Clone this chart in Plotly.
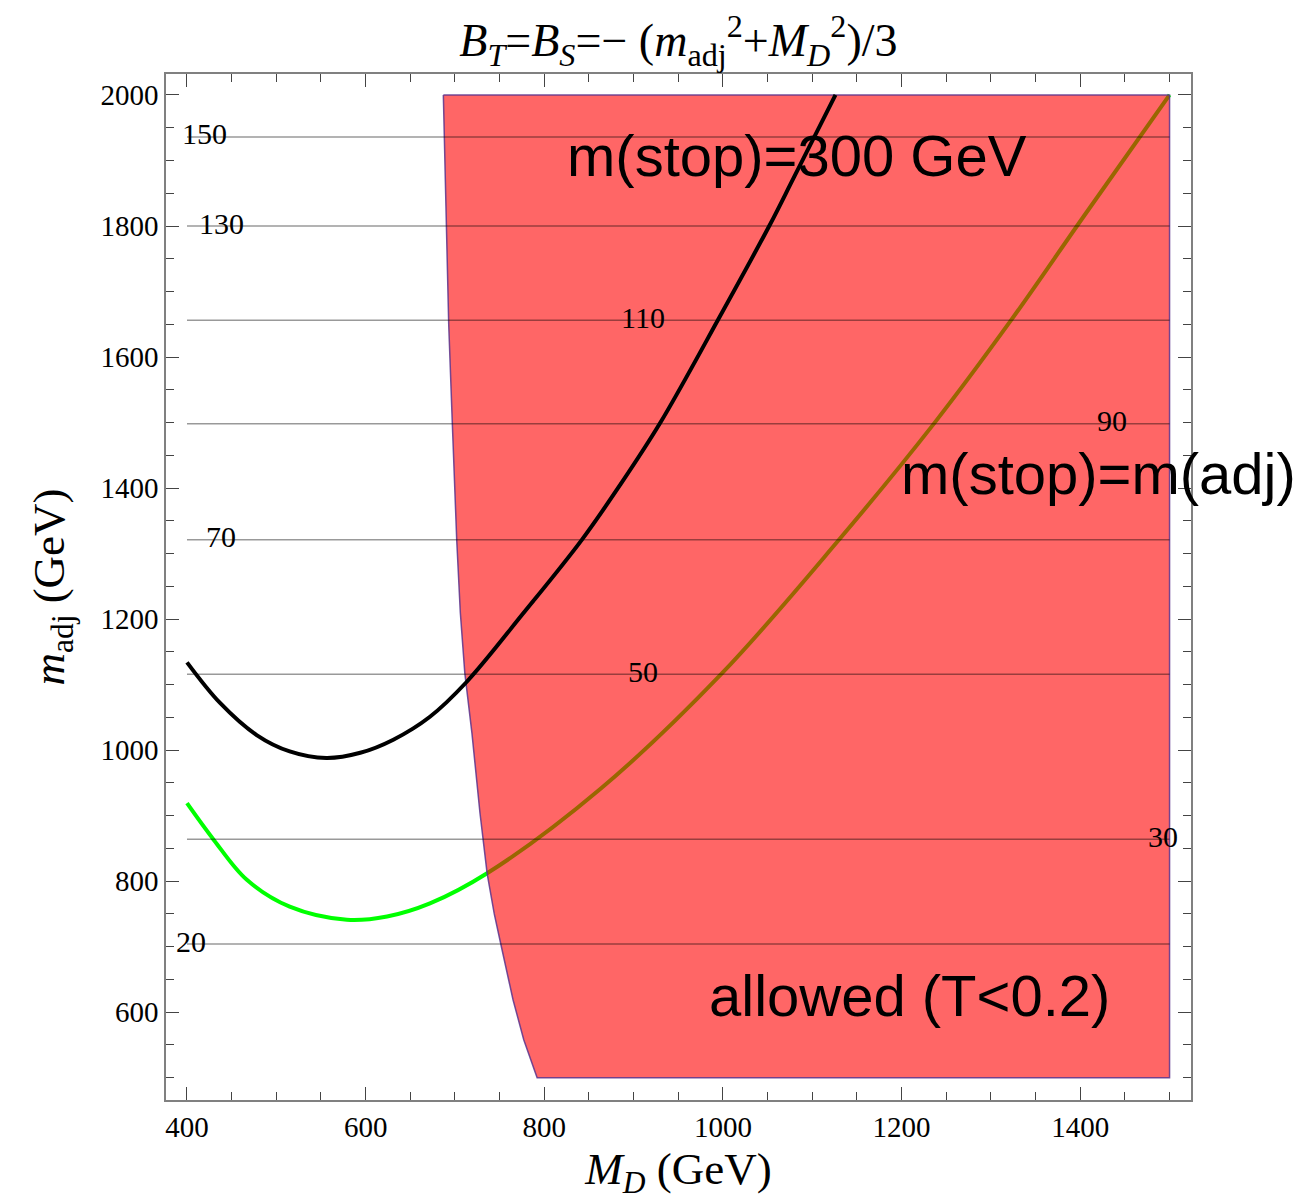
import plotly.graph_objects as go

# Black curve: m(stop) = 300 GeV
stop300_md = [400, 437, 478, 515, 556, 594, 631, 672, 713, 776, 842, 885, 930, 997, 1053, 1079, 1126]
stop300_madj = [1134, 1072, 1023, 998, 988, 996, 1016, 1051, 1104, 1208, 1321, 1405, 1500, 1663, 1803, 1873, 2000]

# Green curve: m(stop) = m(adj)
stopadj_md = [400, 430, 467, 515, 579, 624, 672, 736, 863, 998, 1128, 1236, 1323, 1403, 1500]
stopadj_madj = [919, 863, 802, 761, 741, 746, 766, 812, 941, 1116, 1318, 1498, 1657, 1813, 2000]

# Left edge of the allowed region (T < 0.2)
bound_md = [687, 690, 693, 697, 702, 706, 711, 719, 728, 736, 744, 751, 758, 765, 777, 792]
bound_madj = [2000, 1800, 1650, 1500, 1320, 1210, 1118, 1026, 904, 812, 750, 706, 660, 619, 558, 500]
region_md_max = 1500
region_madj_min = 500
region_madj_max = 2000

# Horizontal contours and their labels
contour_levels = ["150", "130", "110", "90", "70", "50", "30", "20"]
contour_madj = [1936, 1800, 1656, 1498, 1321, 1116, 864, 704]
contour_label_md = [420, 439, 911, 1436, 438, 911, 1493, 405]
contour_md_span = [400, 1500]

serif = "Liberation Serif, Times New Roman, serif"
sans = "Liberation Sans, Arial, sans-serif"

fig = go.Figure()

fig.add_trace(go.Scatter(
    x=stopadj_md, y=stopadj_madj, mode="lines",
    line=dict(color="#00ff00", width=4, shape="spline", smoothing=1.0),
    hoverinfo="skip", showlegend=False))

region_x = bound_md + [region_md_max, region_md_max, bound_md[0]]
region_y = bound_madj + [region_madj_min, region_madj_max, bound_madj[0]]
fig.add_trace(go.Scatter(
    x=region_x, y=region_y, mode="lines", fill="toself",
    fillcolor="rgba(255,0,0,0.6)",
    line=dict(color="rgba(90,50,140,0.85)", width=1.5),
    hoverinfo="skip", showlegend=False))

cx, cy = [], []
for yv in contour_madj:
    cx += [contour_md_span[0], contour_md_span[1], None]
    cy += [yv, yv, None]
fig.add_trace(go.Scatter(
    x=cx, y=cy, mode="lines",
    line=dict(color="rgba(0,0,0,0.4)", width=1.5),
    hoverinfo="skip", showlegend=False))

fig.add_trace(go.Scatter(
    x=stop300_md, y=stop300_madj, mode="lines",
    line=dict(color="black", width=4, shape="spline", smoothing=1.0),
    hoverinfo="skip", showlegend=False))

for lab, xv, yv in zip(contour_levels, contour_label_md, contour_madj):
    fig.add_annotation(x=xv, y=yv, text=lab, showarrow=False,
                       xanchor="center", yanchor="middle", yshift=3,
                       font=dict(family=serif, size=30, color="black"))

big = dict(family=sans, size=58, color="black")
fig.add_annotation(x=1083, y=1908, text="m(stop)=300 GeV", showarrow=False,
                   xanchor="center", yanchor="middle", font=big)
fig.add_annotation(x=1420, y=1423, text="m(stop)=m(adj)", showarrow=False,
                   xanchor="center", yanchor="middle", font=big)
fig.add_annotation(x=1209, y=626, text="allowed (T&lt;0.2)", showarrow=False,
                   xanchor="center", yanchor="middle", font=big)

axis_common = dict(
    showgrid=False, zeroline=False, showline=True, linecolor="#808080",
    linewidth=1.5, mirror="allticks", ticks="inside", ticklen=13,
    tickwidth=1.3, tickcolor="#444444", automargin=False,
    tickfont=dict(family=serif, size=29, color="black"),
    minor=dict(ticks="inside", ticklen=8, tickwidth=1.1, tickcolor="#444444", dtick=50),
)

fig.update_layout(
    width=1315, height=1200,
    margin=dict(l=166, r=124, t=74, b=100),
    paper_bgcolor="white", plot_bgcolor="white",
    title=dict(
        text="<i>B</i><sub><i>T</i></sub>=<i>B</i><sub><i>S</i></sub>=− (<i>m</i><sub>adj</sub><sup>2</sup>+<i>M</i><sub><i>D</i></sub><sup>2</sup>)/3",
        x=0.5159, xanchor="center", y=1 - 40 / 1200, yanchor="middle",
        font=dict(family=serif, size=46, color="black")),
    xaxis=dict(range=[376.5, 1524], tickvals=[400, 600, 800, 1000, 1200, 1400],
               title=dict(text="<i>M</i><sub><i>D</i></sub> (GeV)",
                          font=dict(family=serif, size=45, color="black"), standoff=24),
               **axis_common),
    yaxis=dict(range=[466, 2032], tickvals=[600, 800, 1000, 1200, 1400, 1600, 1800, 2000],
               title=dict(text="<i>m</i><sub>adj</sub> (GeV)",
                          font=dict(family=serif, size=45, color="black"), standoff=22),
               **axis_common),
)

fig.write_html("out.html")
